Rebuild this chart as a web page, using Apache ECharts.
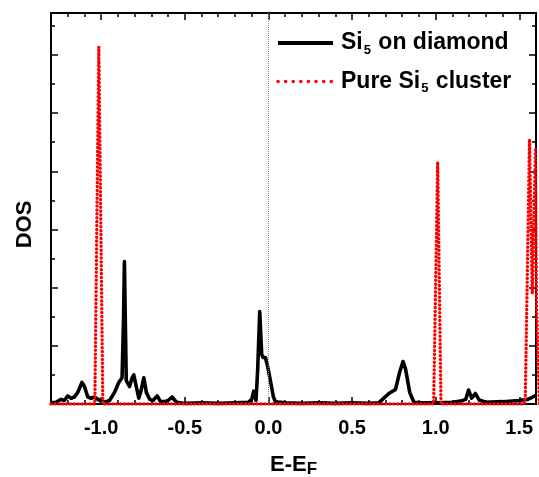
<!DOCTYPE html>
<html>
<head>
<meta charset="utf-8">
<script src="https://cdn.jsdelivr.net/npm/echarts@6/dist/echarts.min.js"></script>
<style>
  html, body { margin: 0; padding: 0; background: #fff; }
  #chart { width: 539px; height: 477px; }
</style>
</head>
<body>
<div id="chart"></div>
<script>
// Si5 on diamond (black solid)
const diamondE = [-1.30, -1.27, -1.24, -1.22, -1.20, -1.18, -1.16, -1.14, -1.115, -1.10, -1.08, -1.06, -1.04, -1.02, -1.00, -0.98, -0.95, -0.92, -0.895, -0.875, -0.866, -0.861, -0.856, -0.85, -0.83, -0.815, -0.805, -0.79, -0.775, -0.76, -0.745, -0.73, -0.71, -0.69, -0.665, -0.645, -0.62, -0.60, -0.576, -0.55, -0.50, -0.40, -0.30, -0.20, -0.12, -0.10, -0.088, -0.074, -0.064, -0.052, -0.040, -0.032, -0.025, -0.018, -0.005, 0.012, 0.030, 0.042, 0.10, 0.20, 0.30, 0.40, 0.50, 0.60, 0.66, 0.69, 0.72, 0.76, 0.785, 0.805, 0.82, 0.845, 0.87, 0.90, 1.00, 1.10, 1.15, 1.18, 1.197, 1.215, 1.237, 1.26, 1.30, 1.40, 1.50, 1.55, 1.58, 1.60];
const diamondDos = [0.02, 0.03, 0.08, 0.06, 0.14, 0.10, 0.12, 0.20, 0.37, 0.30, 0.12, 0.10, 0.12, 0.08, 0.05, 0.03, 0.06, 0.20, 0.37, 0.45, 1.50, 2.45, 1.50, 0.40, 0.30, 0.45, 0.50, 0.30, 0.10, 0.25, 0.45, 0.20, 0.08, 0.06, 0.14, 0.04, 0.04, 0.06, 0.12, 0.03, 0.01, 0.02, 0.01, 0.02, 0.03, 0.08, 0.22, 0.06, 0.60, 1.59, 0.85, 0.80, 0.83, 0.80, 0.65, 0.40, 0.12, 0.04, 0.02, 0.01, 0.02, 0.01, 0.02, 0.01, 0.02, 0.10, 0.18, 0.25, 0.55, 0.73, 0.60, 0.20, 0.03, 0.02, 0.02, 0.03, 0.05, 0.08, 0.24, 0.10, 0.18, 0.07, 0.03, 0.04, 0.06, 0.08, 0.12, 0.15];

// Pure Si5 cluster (red dotted)
const clusterE = [-1.30, -1.038, -1.014, -0.990, 0.988, 1.012, 1.032, 1.530, 1.536, 1.561, 1.578, 1.597, 1.603, 1.620];
const clusterDos = [0, 0, 6.14, 0, 0, 4.16, 0, 0, 0.10, 4.55, 1.90, 4.40, 1.70, 0];

const xMajorTicks = [-1.0, -0.5, 0.0, 0.5, 1.0, 1.5];
const xMinorTicks = [-1.2, -1.1, -0.9, -0.8, -0.7, -0.6, -0.4, -0.3, -0.2, -0.1, 0.1, 0.2, 0.3, 0.4, 0.6, 0.7, 0.8, 0.9, 1.1, 1.2, 1.3, 1.4];
const yMajorTicks = [1, 2, 3, 4, 5, 6];
const yMinorTicks = [0.5, 1.5, 2.5, 3.5, 4.5, 5.5, 6.5];

const FONT = 'Liberation Sans, Arial, sans-serif';
const X_MIN = -1.3, X_MAX = 1.6, Y_MIN = 0, Y_MAX = 6.72;

const chart = echarts.init(document.getElementById('chart'));

const pairs = (xs, ys) => xs.map((x, i) => [x, ys[i]]);

const axisLine = {show: true, onZero: false, lineStyle: {color: '#000', width: 2}};
const tickStyle = {color: '#000', width: 1.5};

const xAxis = (position, ticks, len, extra) => Object.assign({
    type: 'value', min: X_MIN, max: X_MAX, position: position,
    axisLine: {show: false, onZero: false},
    axisTick: {show: true, inside: true, length: len, customValues: ticks, lineStyle: tickStyle},
    axisLabel: {show: false},
    splitLine: {show: false}
}, extra || {});

const yAxis = (position, ticks, len, extra) => Object.assign({
    type: 'value', min: Y_MIN, max: Y_MAX, position: position,
    axisLine: {show: false, onZero: false},
    axisTick: {show: true, inside: true, length: len, customValues: ticks, lineStyle: tickStyle},
    axisLabel: {show: false},
    splitLine: {show: false}
}, extra || {});

const option = {
    animation: false,
    backgroundColor: '#fff',
    grid: {left: 51, right: 3, top: 13, bottom: 73, containLabel: false, outerBoundsMode: 'none'},
    legend: {
        orient: 'vertical',
        left: 271,
        top: 25,
        itemWidth: 55,
        itemHeight: 14,
        itemGap: 12,
        data: [
            {name: 'Si5 on diamond', itemStyle: {opacity: 0}, lineStyle: {width: 4}},
            {name: 'Pure Si5 cluster', itemStyle: {opacity: 0}, lineStyle: {width: 3.5, type: [0.1, 7.5], cap: 'round'}}
        ],
        formatter: name => name.replace('5', '{sub|5}'),
        textStyle: {
            fontFamily: FONT, fontSize: 23, fontWeight: 'bold', color: '#000', lineHeight: 26, padding: [0, 0, 0, 3],
            rich: {sub: {fontFamily: FONT, fontSize: 13, fontWeight: 'bold', color: '#000', padding: [14, 1, 0, 1]}}
        }
    },
    xAxis: [
        xAxis('bottom', xMajorTicks, 7, {
            axisLine: axisLine,
            axisLabel: {
                show: true, customValues: xMajorTicks, margin: 14,
                formatter: v => v.toFixed(1),
                fontFamily: FONT, fontSize: 20, fontWeight: 'bold', color: '#000'
            },
            name: 'E-E{sub|F}',
            nameLocation: 'middle',
            nameGap: 47,
            nameTextStyle: {
                fontFamily: FONT, fontSize: 22, fontWeight: 'bold', color: '#000',
                rich: {sub: {fontFamily: FONT, fontSize: 17, fontWeight: 'bold', color: '#000', padding: [10, 0, 0, 0]}}
            }
        }),
        xAxis('bottom', xMinorTicks, 4),
        xAxis('top', xMajorTicks, 7, {axisLine: axisLine}),
        xAxis('top', xMinorTicks, 4)
    ],
    yAxis: [
        yAxis('left', yMajorTicks, 7, {
            axisLine: axisLine,
            name: 'DOS',
            nameLocation: 'middle',
            nameRotate: 90,
            nameGap: 15,
            nameTextStyle: {fontFamily: FONT, fontSize: 22, fontWeight: 'bold', color: '#000', padding: [0, 32, 0, 0]}
        }),
        yAxis('left', yMinorTicks, 4),
        yAxis('right', yMajorTicks, 7, {axisLine: axisLine}),
        yAxis('right', yMinorTicks, 4)
    ],
    series: [
        {
            name: 'Si5 on diamond',
            type: 'line',
            xAxisIndex: 0, yAxisIndex: 0,
            data: pairs(diamondE, diamondDos),
            symbol: 'none',
            lineStyle: {color: '#000', width: 3.6, join: 'round'},
            itemStyle: {color: '#000'},
            z: 2,
            markLine: {
                silent: true,
                symbol: 'none',
                label: {show: false},
                lineStyle: {color: '#888', width: 1, type: [1, 1]},
                data: [{xAxis: 0}]
            }
        },
        {
            name: 'Pure Si5 cluster',
            type: 'line',
            xAxisIndex: 0, yAxisIndex: 0,
            data: pairs(clusterE, clusterDos),
            symbol: 'none',
            lineStyle: {color: '#ff0000', width: 3.4, type: [0.1, 3.8], cap: 'round'},
            itemStyle: {color: '#ff0000'},
            z: 3
        }
    ]
};

chart.setOption(option);
</script>
</body>
</html>
